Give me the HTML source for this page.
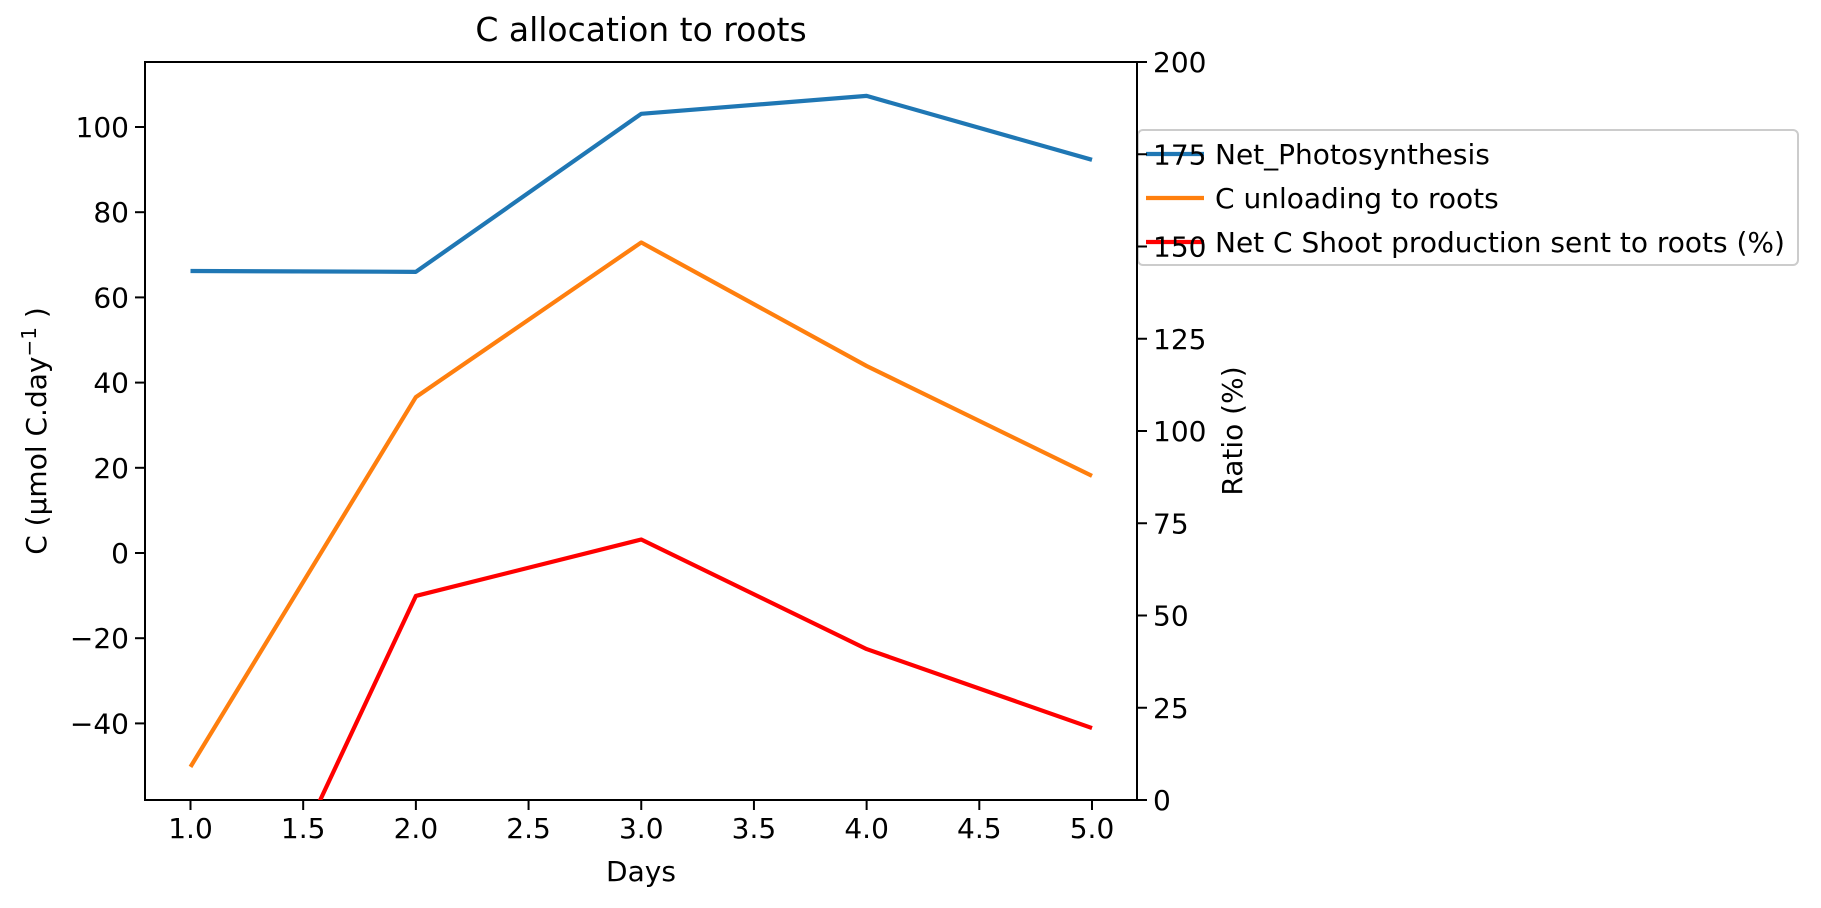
<!DOCTYPE html>
<html><head><meta charset="utf-8"><style>
html,body{margin:0;background:#fff;overflow:hidden;width:1821px;height:908px}
svg{display:block}
text{font-family:"DejaVu Sans","Liberation Sans",sans-serif;fill:#000}
</style></head><body>
<svg id="chart" width="1821" height="908" xmlns="http://www.w3.org/2000/svg">
<defs><clipPath id="clip"><rect x="145" y="62" width="992" height="738"/></clipPath></defs>
<g id="legend">
<rect x="1138" y="130" width="660" height="135" rx="5" fill="#fff" fill-opacity="0.8" stroke="#ccc" stroke-width="2"/>
</g>
<g id="axes"></g>
<g id="series" clip-path="url(#clip)"></g>
<text x="641" y="41" font-size="33" text-anchor="middle">C allocation to roots</text>
<text x="641" y="881" font-size="28" text-anchor="middle">Days</text>
<text transform="translate(46,431) rotate(-90)" font-size="28" text-anchor="middle">C (µmol C.day<tspan dy="-10" font-size="20">−1</tspan><tspan dy="10"> )</tspan></text>
<text transform="translate(1242,431) rotate(-90)" font-size="28" text-anchor="middle">Ratio (%)</text>
</svg>
<script>
const days = [1, 2, 3, 4, 5];
const netPhotosynthesis = [66.2, 66.0, 103.1, 107.3, 92.3];
const cUnloading = [-50.2, 36.6, 72.9, 43.9, 18.1];
const ratioPct = [-75, 55.3, 70.6, 40.9, 19.5];
const xTicks = [1.0, 1.5, 2.0, 2.5, 3.0, 3.5, 4.0, 4.5, 5.0];
const yTicks = [-40, -20, 0, 20, 40, 60, 80, 100];
const y2Ticks = [0, 25, 50, 75, 100, 125, 150, 175, 200];

const NS = "http://www.w3.org/2000/svg";
const L = 145, R = 1137, T = 62, B = 800;
const xs = v => 190.5 + (v - 1) * (1092 - 190.5) / 4;
const ys = v => 553 - v * (553 - 127) / 100;
const y2s = v => B - v * (B - T) / 200;
function mk(tag, attrs, parent) { const e = document.createElementNS(NS, tag); for (const k in attrs) e.setAttribute(k, attrs[k]); parent.appendChild(e); return e; }
const axes = document.getElementById('axes'), series = document.getElementById('series'), legend = document.getElementById('legend');
const frame = mk('rect', {x: L, y: T, width: R - L, height: B - T, fill: 'none', stroke: '#000', 'stroke-width': 2}, axes);


xTicks.forEach(v => {
  const x = xs(v);
  mk('line', {x1: x, x2: x, y1: B, y2: B + 10, stroke: '#000', 'stroke-width': 2}, axes);
  const t = mk('text', {x: x, y: B + 38, 'font-size': 28, 'text-anchor': 'middle'}, axes);
  t.textContent = v.toFixed(1);
  
  
});
yTicks.forEach(v => {
  const y = ys(v);
  mk('line', {x1: L - 10, x2: L, y1: y, y2: y, stroke: '#000', 'stroke-width': 2}, axes);
  const t = mk('text', {x: L - 16, y: y + 10, 'font-size': 28, 'text-anchor': 'end'}, axes);
  t.textContent = v < 0 ? '\u2212' + Math.abs(v) : String(v);
  
  
});
y2Ticks.forEach(v => {
  const y = y2s(v);
  mk('line', {x1: R, x2: R + 10, y1: y, y2: y, stroke: '#000', 'stroke-width': 2}, axes);
  const t = mk('text', {x: R + 16, y: y + 10, 'font-size': 28}, axes);
  t.textContent = String(v);
  
  
});
function line(vals, scale, color, name) {
  const pts = days.map((d, i) => xs(d) + ',' + scale(vals[i])).join(' ');
  const p = mk('polyline', {points: pts, fill: 'none', stroke: color, 'stroke-width': 4.2, 'stroke-linejoin': 'round'}, series);
  
  
}
line(netPhotosynthesis, ys, '#1f77b4', 'net-photosynthesis-line');
line(cUnloading, ys, '#ff7f0e', 'c-unloading-line');
line(ratioPct, y2s, '#ff0000', 'ratio-line');
const entries = [['Net_Photosynthesis', '#1f77b4'], ['C unloading to roots', '#ff7f0e'], ['Net C Shoot production sent to roots (%)', '#ff0000']];
entries.forEach((e, i) => {
  const y = 154 + i * 44;
  mk('line', {x1: 1146, x2: 1204, y1: y, y2: y, stroke: e[1], 'stroke-width': 4.2}, legend);
  const t = mk('text', {x: 1215, y: y + 10, 'font-size': 28}, legend);
  t.textContent = e[0];
  
  
});
</script>
</body></html>
